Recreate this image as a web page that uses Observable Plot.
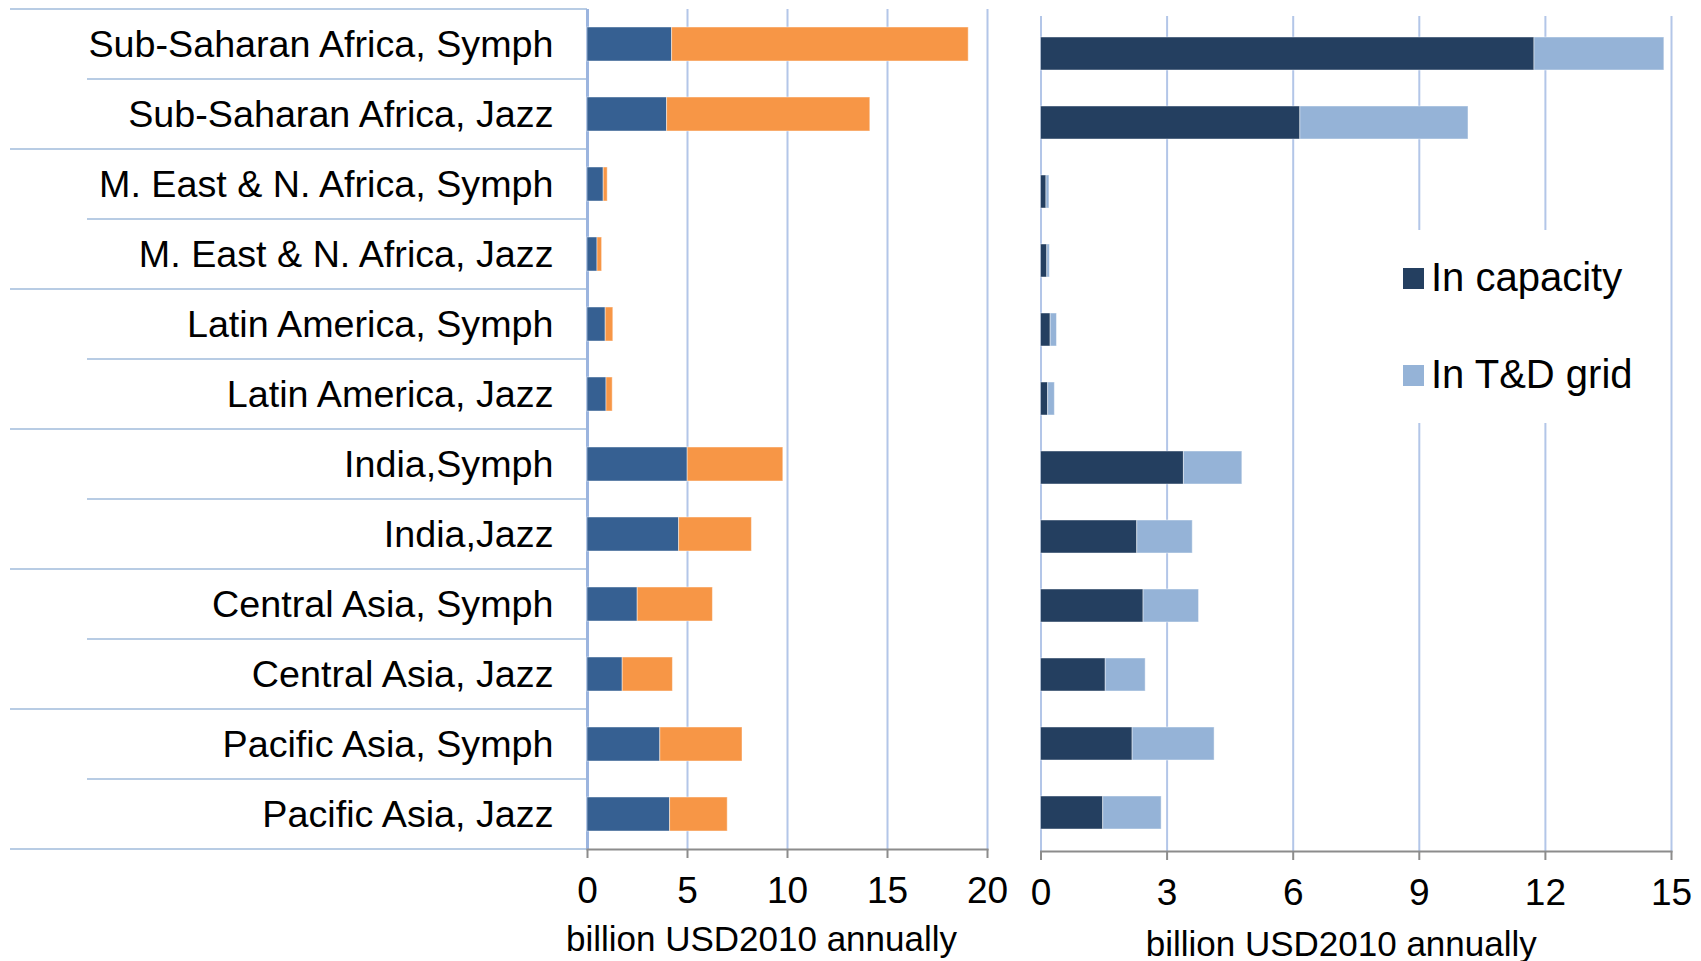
<!DOCTYPE html>
<html>
<head>
<meta charset="utf-8">
<script src="https://cdn.jsdelivr.net/npm/d3@7"></script>
<script src="https://cdn.jsdelivr.net/npm/@observablehq/plot@0.6"></script>
<style>
  html, body { margin: 0; padding: 0; background: #fff; }
  #wrap { position: relative; width: 1701px; height: 961px; overflow: hidden; background: #fff;
          font-family: "Liberation Sans", Arial, sans-serif; }
  #left, #right { position: absolute; top: 0; }
  #left { left: 0; }
  #right { left: 1010px; }
  #legend { position: absolute; left: 1395px; top: 230px; width: 265px; height: 193px; background: #fff; }
  .sw { position: absolute; width: 21px; height: 21px; }
  .lt { position: absolute; font-size: 40px; line-height: 40px; color: #000; white-space: nowrap; }
</style>
</head>
<body>
<div id="wrap">
  <div id="left"></div>
  <div id="right"></div>
  <div id="legend"></div>
</div>
<script>
// ---- data ----
const categories = [
  "Sub-Saharan Africa, Symph", "Sub-Saharan Africa, Jazz",
  "M. East & N. Africa, Symph", "M. East & N. Africa, Jazz",
  "Latin America, Symph", "Latin America, Jazz",
  "India,Symph", "India,Jazz",
  "Central Asia, Symph", "Central Asia, Jazz",
  "Pacific Asia, Symph", "Pacific Asia, Jazz"
];
const leftSeries = ["Blue segment", "Orange segment"];
const leftBlue   = [4.23, 3.98, 0.81, 0.50, 0.91, 0.95, 5.01, 4.58, 2.51, 1.76, 3.64, 4.13];
const leftOrange = [14.83, 10.16, 0.20, 0.23, 0.38, 0.31, 4.78, 3.64, 3.76, 2.51, 4.11, 2.88];
const leftTicks = [0, 5, 10, 15, 20];

const rightSeries = ["In capacity", "In T&D grid"];
const rightCapacity = [11.74, 6.17, 0.13, 0.15, 0.23, 0.17, 3.40, 2.29, 2.44, 1.54, 2.18, 1.48];
const rightGrid     = [3.09, 4.00, 0.07, 0.06, 0.15, 0.16, 1.39, 1.32, 1.32, 0.95, 1.95, 1.39];
const rightTicks = [0, 3, 6, 9, 12, 15];

const axisTitle = "billion USD2010 annually";

// ---- tables ----
const leftData = categories.flatMap((c, i) => [
  {cat: c, s: leftSeries[0], v: leftBlue[i]},
  {cat: c, s: leftSeries[1], v: leftOrange[i]}
]);
const rightData = categories.flatMap((c, i) => [
  {cat: c, s: rightSeries[0], v: rightCapacity[i]},
  {cat: c, s: rightSeries[1], v: rightGrid[i]}
]);

const font = '"Liberation Sans", Arial, sans-serif';
const gridColor = "#b3c6e8";

// separator lines in the category-label column (drawn from the y band scale)
function separators(index, scales, values, dims) {
  const g = d3.create("svg:g");
  const y = scales.y;
  const n = categories.length;
  const H = dims.height - dims.marginTop - dims.marginBottom;
  const step = y.step ? y.step() : H / n;
  const bw = y.bandwidth ? y.bandwidth() : step * 0.48;
  const top = y(categories[0]) - (step - bw) / 2;
  for (let k = 0; k <= n; k++) {
    const yy = top + k * step;
    g.append("line")
      .attr("x1", k % 2 === 0 ? 10 : 87)
      .attr("x2", dims.marginLeft)
      .attr("y1", yy).attr("y2", yy)
      .attr("stroke", "#b8cce4")
      .attr("stroke-width", 2);
  }
  return g.node();
}

const leftPlot = Plot.plot({
  width: 1010, height: 961,
  marginLeft: 587, marginRight: 23, marginTop: 9, marginBottom: 112,
  style: {fontFamily: font, fontSize: "37px", color: "#000", background: "transparent", overflow: "visible"},
  x: {domain: [0, 20], label: null},
  y: {domain: categories, paddingInner: 0.52, paddingOuter: 0.26, label: null},
  color: {domain: leftSeries, range: ["#366092", "#f79646"]},
  marks: [
    Plot.gridX(leftTicks.slice(1), {stroke: gridColor, strokeOpacity: 1, strokeWidth: 2}),
    separators,
    Plot.ruleX([0], {stroke: "#9cb5df", strokeWidth: 3}),
    Plot.barX(leftData, Plot.stackX({x: "v", y: "cat", fill: "s", stroke: "#ffffff", strokeOpacity: 0.45, strokeWidth: 1})),
    Plot.frame({anchor: "bottom", stroke: "#8c8c8c", strokeWidth: 2}),
    Plot.axisY({tickSize: 0, tickPadding: 34, fontSize: 37.7, label: null}),
    Plot.axisX({ticks: leftTicks, tickSize: 9, tickPadding: 18.7, stroke: "#8c8c8c", strokeWidth: 2, fontSize: 37, label: null}),
    Plot.text([axisTitle], {frameAnchor: "bottom", dy: 101, dx: -26, lineAnchor: "bottom", fontSize: 35, fill: "#000"})
  ]
});
document.getElementById("left").appendChild(leftPlot);

const rightPlot = Plot.plot({
  width: 691, height: 961,
  marginLeft: 30.5, marginRight: 30, marginTop: 16, marginBottom: 110,
  style: {fontFamily: font, fontSize: "37px", color: "#000", background: "transparent", overflow: "visible"},
  x: {domain: [0, 15], label: null},
  y: {domain: categories, paddingInner: 0.52, paddingOuter: 0.26, axis: null},
  color: {domain: rightSeries, range: ["#243f60", "#95b3d7"]},
  marks: [
    Plot.gridX(rightTicks, {stroke: gridColor, strokeOpacity: 1, strokeWidth: 2}),
    Plot.barX(rightData, Plot.stackX({x: "v", y: "cat", fill: "s", stroke: "#ffffff", strokeOpacity: 0.45, strokeWidth: 1})),
    Plot.frame({anchor: "bottom", stroke: "#8c8c8c", strokeWidth: 2}),
    Plot.axisX({ticks: rightTicks, tickSize: 9, tickPadding: 18.7, stroke: "#8c8c8c", strokeWidth: 2, fontSize: 37, label: null}),
    Plot.text([axisTitle], {frameAnchor: "bottom", dy: 104, dx: -15, lineAnchor: "bottom", fontSize: 35, fill: "#000"})
  ]
});
document.getElementById("right").appendChild(rightPlot);

// legend (right panel)
const legend = document.getElementById("legend");
const legendColors = rightPlot.scale("color").range;
rightSeries.forEach((name, i) => {
  const sw = document.createElement("div");
  sw.className = "sw";
  sw.style.left = "8px";
  sw.style.top = (38 + i * 97) + "px";
  sw.style.background = legendColors[i];
  legend.appendChild(sw);
  const t = document.createElement("div");
  t.className = "lt";
  t.style.left = "36px";
  t.style.top = (27 + i * 97) + "px";
  t.textContent = name;
  legend.appendChild(t);
});
</script>
</body>
</html>
